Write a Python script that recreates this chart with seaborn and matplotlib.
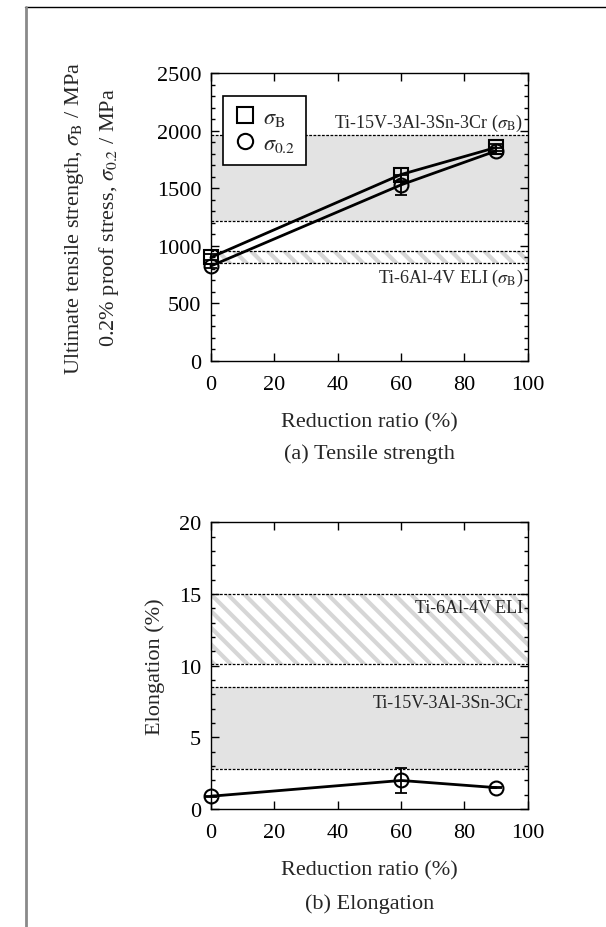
import matplotlib
matplotlib.use("Agg")
import matplotlib.pyplot as plt
from matplotlib.lines import Line2D
from matplotlib.ticker import MultipleLocator
import seaborn as sns
import pandas as pd

# data
reduction = [0, 60, 90]
sigma_b = [900, 1620, 1855]
sigma_b_err = [25, 60, 30]
sigma_02 = [825, 1530, 1825]
sigma_02_err = [20, 90, 25]
elong = [0.9, 2.0, 1.5]
elong_err = [0.05, 0.85, 0.05]

# reference bands (lower, upper)
ti15_sigma_band = (1220, 1960)
ti64_sigma_band = (850, 955)
ti64_elong_band = (10.1, 15.0)
ti15_elong_band = (2.8, 8.5)

sns.set_theme(style="ticks")
plt.rcParams["font.family"] = ["Liberation Serif", "DejaVu Serif"]
plt.rcParams["mathtext.fontset"] = "stix"
plt.rcParams["hatch.linewidth"] = 3.0
plt.rcParams["axes.linewidth"] = 1.0

FS = 16
fig = plt.figure(figsize=(6.06, 9.28), dpi=100)
ax1 = fig.add_axes([0.348, 0.610, 0.523, 0.310])
ax2 = fig.add_axes([0.348, 0.127, 0.523, 0.309])

band_gray = "#e3e3e3"
hatch_col = "#d6d6d6"
dash = (0, (2.2, 1.2))


def draw_bands(ax, gray_band, hatch_band):
    ax.fill_between([0, 100], gray_band[0], gray_band[1], color=band_gray, lw=0, zorder=0)
    ax.fill_between([0, 100], hatch_band[0], hatch_band[1], facecolor="white",
                    edgecolor=hatch_col, hatch="\\\\", lw=0, zorder=0)
    for v in list(gray_band) + list(hatch_band):
        ax.axhline(v, color="black", lw=0.9, ls=dash, zorder=1)


def style_axes(ax, ymax, ymajor, yminor):
    ax.set_xlim(0, 100)
    ax.set_ylim(0, ymax)
    ax.xaxis.set_major_locator(MultipleLocator(20))
    ax.yaxis.set_major_locator(MultipleLocator(ymajor))
    ax.yaxis.set_minor_locator(MultipleLocator(yminor))
    ax.tick_params(which="both", direction="in", top=True, right=True,
                   colors="black", labelsize=FS, width=1.0)
    ax.tick_params(which="major", length=6, pad=7)
    ax.tick_params(axis="x", which="major", pad=10)
    ax.tick_params(which="minor", length=3)
    for s in ax.spines.values():
        s.set_color("black")
        s.set_zorder(5)
    ax.set_xlabel("Reduction ratio (%)", fontsize=FS, labelpad=13)


# (a) tensile strength
draw_bands(ax1, ti15_sigma_band, ti64_sigma_band)
df_a = pd.DataFrame({"r": reduction * 2,
                     "v": sigma_b + sigma_02,
                     "s": ["B"] * 3 + ["0.2"] * 3})
for name, mk in [("B", "s"), ("0.2", "o")]:
    d = df_a[df_a["s"] == name]
    sns.lineplot(data=d, x="r", y="v", ax=ax1, color="black", lw=2.0,
                 marker=mk, markersize=10, markerfacecolor="none",
                 markeredgecolor="black", markeredgewidth=1.5, zorder=3, clip_on=False)
ax1.errorbar(reduction, sigma_b, yerr=sigma_b_err, fmt="none", ecolor="black",
             elinewidth=1.3, capsize=4, capthick=1.3, zorder=4, clip_on=False)
ax1.errorbar(reduction, sigma_02, yerr=sigma_02_err, fmt="none", ecolor="black",
             elinewidth=1.3, capsize=4, capthick=1.3, zorder=4, clip_on=False)
style_axes(ax1, 2500, 500, 100)
ax1.set_ylabel("")
ax1.text(98.5, 2075, r"Ti-15V-3Al-3Sn-3Cr ($\sigma_{\mathrm{B}}$)", ha="right",
         va="center", fontsize=13)
ax1.text(98.5, 729, r"Ti-6Al-4V ELI ($\sigma_{\mathrm{B}}$)", ha="right",
         va="center", fontsize=13)
handles = [Line2D([0], [0], marker="s", ls="none", mfc="none", mec="black", mew=1.5, ms=11),
           Line2D([0], [0], marker="o", ls="none", mfc="none", mec="black", mew=1.5, ms=11)]
leg = ax1.legend(handles, [r"$\sigma_{\mathrm{B}}$", r"$\sigma_{0.2}$"],
                 loc="upper left", bbox_to_anchor=(0.038, 0.92), borderaxespad=0,
                 fontsize=FS, frameon=True, fancybox=False, framealpha=1,
                 handletextpad=0.3, handlelength=1.0, borderpad=0.5, labelspacing=0.25)
leg.get_frame().set_edgecolor("black")
leg.get_frame().set_linewidth(1.2)
ax1.text(-0.43, 0.5, r"Ultimate tensile strength, $\sigma_{\mathrm{B}}$ / MPa",
         transform=ax1.transAxes, rotation=90, ha="center", va="center", fontsize=FS)
ax1.text(-0.32, 0.5, r"0.2% proof stress, $\sigma_{0.2}$ / MPa",
         transform=ax1.transAxes, rotation=90, ha="center", va="center", fontsize=FS)
fig.text(0.6095, 1 - 454 / 928, "(a) Tensile strength", ha="center", va="center", fontsize=FS)

# (b) elongation
draw_bands(ax2, ti15_elong_band, ti64_elong_band)
df_b = pd.DataFrame({"r": reduction, "v": elong})
sns.lineplot(data=df_b, x="r", y="v", ax=ax2, color="black", lw=2.0,
             marker="o", markersize=10, markerfacecolor="none",
             markeredgecolor="black", markeredgewidth=1.5, zorder=3, clip_on=False)
ax2.errorbar(reduction, elong, yerr=elong_err, fmt="none", ecolor="black",
             elinewidth=1.3, capsize=4, capthick=1.3, zorder=4, clip_on=False)
style_axes(ax2, 20, 5, 1)
ax2.set_ylabel("Elongation (%)", fontsize=FS, labelpad=10)
ax2.text(98.5, 14.08, "Ti-6Al-4V ELI", ha="right", va="center", fontsize=13)
ax2.text(98.5, 7.46, "Ti-15V-3Al-3Sn-3Cr", ha="right", va="center", fontsize=13)
fig.text(0.6095, 1 - 904 / 928, "(b) Elongation", ha="center", va="center", fontsize=FS)

# page frame lines
fig.add_artist(Line2D([25 / 606, 1], [1 - 8 / 928, 1 - 8 / 928], color="black", lw=1.0))
fig.add_artist(Line2D([25.5 / 606, 25.5 / 606], [0, 1 - 8 / 928], color="#8a8a8a", lw=2.0))

fig.savefig("out.png", dpi=100)
